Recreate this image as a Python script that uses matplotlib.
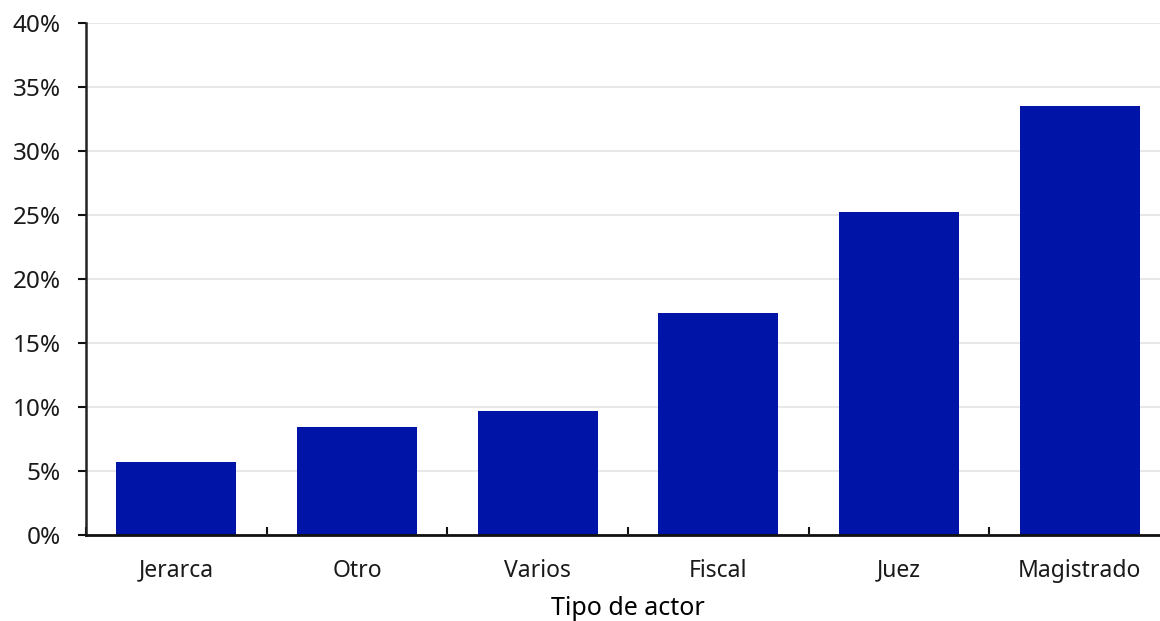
import numpy as np
import matplotlib
matplotlib.use("Agg")
import matplotlib.pyplot as plt
import matplotlib.ticker as mticker

categories = ["Jerarca", "Otro", "Varios", "Fiscal", "Juez", "Magistrado"]
shares = [5.7, 8.45, 9.7, 17.35, 25.25, 33.55]  # percent
y_ticks = [0, 5, 10, 15, 20, 25, 30, 35, 40]

BAR_COLOR = "#0014a8"

plt.rcParams.update({
    "font.family": ["Noto Sans", "DejaVu Sans"],
    "text.color": "#1a1a1a",
    "xtick.color": "#1a1a1a",
    "ytick.color": "#1a1a1a",
})

fig = plt.figure(figsize=(11.6, 6.21), dpi=100)
ax = fig.add_axes([0.0741, 0.1385, 0.9345, 0.8245])

x = np.arange(len(categories))
ax.bar(x, shares, width=0.664, color=BAR_COLOR, zorder=2)

ax.set_xlim(-0.5, len(categories) - 0.5)
ax.set_ylim(0, 40)
ax.set_yticks(y_ticks)
ax.yaxis.set_major_formatter(mticker.FuncFormatter(lambda v, _: f"{int(v)}%"))
ax.grid(axis="y", color="#e8e8e8", linewidth=1.5, zorder=0)
ax.set_axisbelow(True)

ax.set_xticks(x)
ax.set_xticklabels(categories)
ax.set_xticks(np.arange(-0.5, len(categories)), minor=True)
ax.tick_params(axis="x", which="major", length=0, pad=17, labelsize=16.5)
ax.tick_params(axis="x", which="minor", direction="in", length=6, width=1.5, color="#111111")
ax.tick_params(axis="y", direction="out", length=6, width=1.5, pad=12, labelsize=17.5,
               color="#111111")

for side in ("top", "right"):
    ax.spines[side].set_visible(False)
ax.spines["left"].set_linewidth(1.8)
ax.spines["left"].set_color("#222222")
ax.spines["bottom"].set_linewidth(2)
ax.spines["bottom"].set_color("#111111")

ax.set_xlabel("Tipo de actor", fontsize=18, labelpad=10)

fig.savefig("out.png", dpi=100)
